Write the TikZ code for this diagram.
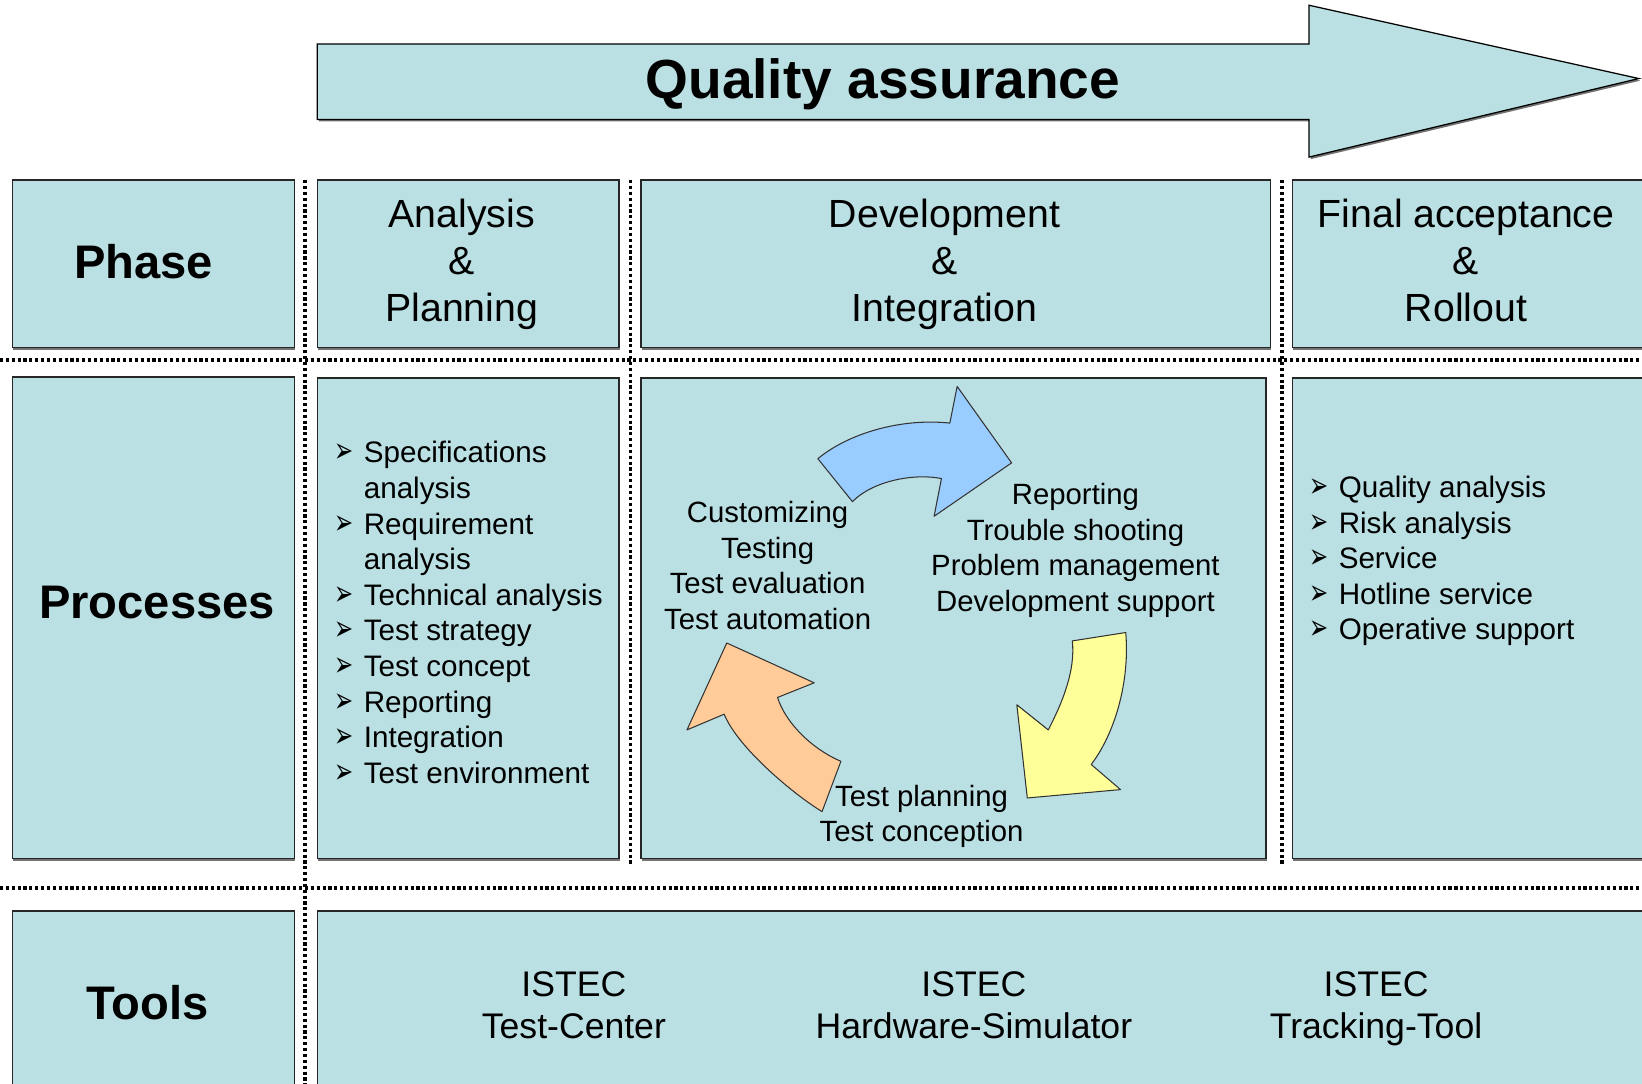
\documentclass[tikz,border=0pt]{standalone}
\usepackage{graphicx}
\usepackage{fontspec}
\setmainfont{Liberation Sans}
\newfontfamily\symfont{DejaVu Sans}
\usetikzlibrary{shadows}

\definecolor{qafill}{RGB}{186,224,227}
\definecolor{arrblue}{RGB}{153,204,255}
\definecolor{arryellow}{RGB}{255,255,153}
\definecolor{arrorange}{RGB}{255,204,153}
\newcommand{\bul}{\makebox[14pt][l]{\scalebox{0.68}[1.05]{\symfont\fontsize{16}{16}\selectfont ➢}}}

\begin{document}
\begin{tikzpicture}[x=0.5pt, y=-0.5pt,
	box/.style={draw=black!85, fill=qafill, line width=0.6pt, inner sep=0pt, drop shadow={shadow xshift=0.4pt, shadow yshift=-1pt, fill=black!55, opacity=1}},
	sep/.style={line width=1.7pt, dash pattern=on 1.5pt off 1.3pt},
	rowlbl/.style={font=\fontsize{22.5}{27}\selectfont\bfseries, inner sep=0pt},
	hdr/.style={font=\fontsize{18.75}{22.5}\selectfont, inner sep=0pt, anchor=base},
	lst/.style={font=\fontsize{14.15}{17}\selectfont, inner sep=0pt, anchor=base west},
	cyc/.style={font=\fontsize{14}{17}\selectfont, inner sep=0pt, anchor=base},
	tool/.style={font=\fontsize{17}{20}\selectfont, inner sep=0pt, anchor=base},
	cycarrow/.style={draw=black!80, line width=0.5pt, line join=round}]
	\useasboundingbox (0,0) rectangle (1568,1035);

	% quality assurance arrow
	\fill[black!55, shift={(1.5,2)}] (303,42) -- (1250,42) -- (1250,5) -- (1565,75) -- (1250,150) -- (1250,114) -- (303,114) -- cycle;
	\draw[fill=qafill, line width=0.6pt] (303,42) -- (1250,42) -- (1250,5) -- (1565,75) -- (1250,150) -- (1250,114) -- (303,114) -- cycle;
	\node[font=\fontsize{26.3}{30}\selectfont\bfseries, anchor=base]	(qa) at (843, 94) {Quality assurance};

	% separators
	\draw[sep] (0,344) -- (1568,344);
	\draw[sep] (0,848) -- (1568,848);
	\draw[sep] (291,172) -- (291,1035);
	\draw[sep] (602,172) -- (602,826);
	\draw[sep] (1224,172) -- (1224,826);

	% phase row
	\node[box, minimum width=134.5pt, minimum height=80pt]	(phase) at (146.5, 252) {};
	\node[box, minimum width=144pt, minimum height=80pt]	(anaplan) at (447, 252) {};
	\node[box, minimum width=300.5pt, minimum height=80pt]	(devint) at (912.5, 252) {};
	\node[box, minimum width=173pt, minimum height=80pt]	(finrol) at (1407, 252) {};

	\node[rowlbl]	(phasetxt) at (137, 250) {Phase};
	\node[hdr]	(anaplantxt) at (441, 217) {\begin{tabular}[t]{@{}c@{}}Analysis\\\&\\Planning\end{tabular}};
	\node[hdr]	(devinttxt) at (902, 217) {\begin{tabular}[t]{@{}c@{}}Development\\\&\\Integration\end{tabular}};
	\node[hdr]	(finroltxt) at (1400, 217) {\begin{tabular}[t]{@{}c@{}}Final acceptance\\\&\\Rollout\end{tabular}};

	% processes row
	\node[box, minimum width=134.5pt, minimum height=230pt]	(proc) at (146.5, 590) {};
	\node[box, minimum width=144pt, minimum height=229.5pt]	(anlist) at (447, 590.5) {};
	\node[box, minimum width=298.5pt, minimum height=229.5pt]	(devcyc) at (910.5, 590.5) {};
	\node[box, minimum width=173pt, minimum height=229.5pt]	(finlist) at (1407, 590.5) {};

	\node[rowlbl]	(proctxt) at (150, 575) {Processes};
	\node[lst]	(anitems) at (319, 442) {\begin{tabular}[t]{@{}l@{}l@{}}
		\bul & Specifications\\
		 & analysis\\
		\bul & Requirement\\
		 & analysis\\
		\bul & Technical analysis\\
		\bul & Test strategy\\
		\bul & Test concept\\
		\bul & Reporting\\
		\bul & Integration\\
		\bul & Test environment
	\end{tabular}};
	\node[lst]	(finitems) at (1250, 475) {\begin{tabular}[t]{@{}l@{}l@{}}
		\bul & Quality analysis\\
		\bul & Risk analysis\\
		\bul & Service\\
		\bul & Hotline service\\
		\bul & Operative support
	\end{tabular}};

	% development cycle
	\draw[cycarrow, fill=arrblue] (781,438) .. controls (810,414) and (860,399) .. (907,404)
		-- (914,369) -- (966,442) -- (892,493) -- (899,457)
		.. controls (875,452) and (835,458) .. (814,479) -- cycle;
	\draw[cycarrow, fill=arryellow] (1075,604) .. controls (1079,650) and (1065,700) .. (1042,730)
		-- (1070,754) -- (981,762) -- (971,673) -- (1001,697)
		.. controls (1015,670) and (1027,640) .. (1024,612) -- cycle;
	\draw[cycarrow, fill=arrorange] (785,775) .. controls (760,760) and (705,715) .. (691.5,682)
		-- (656,697) -- (694,614) -- (777.5,652) -- (742.5,666)
		.. controls (750,690) and (775,715) .. (803,727) -- cycle;

	\node[cyc]	(custom) at (733, 499) {\begin{tabular}[t]{@{}c@{}}Customizing\\Testing\\Test evaluation\\Test automation\end{tabular}};
	\node[cyc]	(report) at (1027, 482) {\begin{tabular}[t]{@{}c@{}}Reporting\\Trouble shooting\\Problem management\\Development support\end{tabular}};
	\node[cyc]	(plan) at (880, 770) {\begin{tabular}[t]{@{}c@{}}Test planning\\Test conception\end{tabular}};

	% tools row
	\node[box, minimum width=134.5pt, minimum height=90pt]	(tools) at (146.5, 960) {};
	\node[box, minimum width=638.5pt, minimum height=90pt]	(toolset) at (941.5, 960) {};

	\node[rowlbl]	(toolstxt) at (141, 957) {Tools};
	\node[tool]	(testctr) at (548, 952) {\begin{tabular}[t]{@{}c@{}}ISTEC\\Test-Center\end{tabular}};
	\node[tool]	(hwsim) at (930, 952) {\begin{tabular}[t]{@{}c@{}}ISTEC\\Hardware-Simulator\end{tabular}};
	\node[tool]	(track) at (1314, 952) {\begin{tabular}[t]{@{}c@{}}ISTEC\\Tracking-Tool\end{tabular}};
\end{tikzpicture}
\end{document}
